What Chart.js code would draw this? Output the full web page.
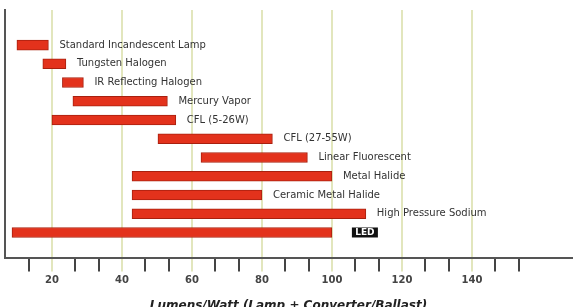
<!DOCTYPE html>
<html>
<head>
<meta charset="utf-8">
<script src="https://cdn.jsdelivr.net/npm/chart.js@4.4.0/dist/chart.umd.min.js"></script>
<style>
  html, body { margin: 0; padding: 0; background: #fff; overflow: hidden; }
</style>
</head>
<body>
<canvas id="lampChart" width="577" height="319"></canvas>
<script>
// lamp types, top to bottom
const lampTypes = [
    'Standard Incandescent Lamp',
    'Tungsten Halogen',
    'IR Reflecting Halogen',
    'Mercury Vapor',
    'CFL (5-26W)',
    'CFL (27-55W)',
    'Linear Fluorescent',
    'Metal Halide',
    'Ceramic Metal Halide',
    'High Pressure Sodium',
    'LED'
];
// efficacy range (lumens / watt)
const efficacyLow  = [10, 17.4, 23, 26, 20, 50.3, 62.6, 42.9, 42.9, 42.9, 8.6];
const efficacyHigh = [19, 24, 29, 53, 55.4, 83, 93, 100, 80, 109.7, 100];

// axis ticks: small marks every 20/3, labels every 20
const tickMarks = [13.33, 20, 26.67, 33.33, 40, 46.67, 53.33, 60, 66.67, 73.33, 80,
    86.67, 93.33, 100, 106.67, 113.33, 120, 126.67, 133.33, 140, 146.67, 153.33];
const tickLabels = [20, 40, 60, 80, 100, 120, 140];

const isLabelTick = v => tickLabels.some(t => Math.abs(t - v) < 0.01);

// texto al lado de cada barra
const barLabels = {
    id: 'barLabels',
    afterDatasetsDraw(chart) {
        const ctx = chart.ctx;
        const meta = chart.getDatasetMeta(0);
        ctx.save();
        ctx.textBaseline = 'middle';
        meta.data.forEach((bar, i) => {
            const name = lampTypes[i];
            if (name === 'LED') {
                const x = bar.x + 20;
                ctx.fillStyle = '#111';
                ctx.fillRect(x, bar.y - 5, 26, 10);
                ctx.fillStyle = '#fff';
                ctx.font = 'bold 9px "DejaVu Sans"';
                ctx.textAlign = 'center';
                ctx.fillText(name, x + 13, bar.y + 0.5);
            } else {
                ctx.fillStyle = '#333';
                ctx.font = '10px "DejaVu Sans"';
                ctx.textAlign = 'left';
                ctx.fillText(name, bar.x + 11, bar.y);
            }
        });
        ctx.restore();
    }
};

const ctx = document.getElementById('lampChart').getContext('2d');
new Chart(ctx, {
    type: 'bar',
    data: {
        datasets: [{
            data: lampTypes.map((name, i) => ({ x: [efficacyLow[i], efficacyHigh[i]], y: i })),
            backgroundColor: '#e3321c',
            borderColor: '#a8200f',
            borderWidth: 1,
            borderSkipped: false,
            barThickness: 10
        }]
    },
    options: {
        indexAxis: 'y',
        responsive: false,
        animation: false,
        layout: { padding: { left: 5, right: 5, top: 10, bottom: 6 } },
        plugins: {
            legend: { display: false },
            tooltip: { enabled: false }
        },
        scales: {
            y: {
                type: 'linear',
                reverse: true,
                offset: false,
                min: -1.87,
                max: 11.34,
                ticks: { display: false },
                grid: { display: false, drawTicks: false },
                border: { display: true, color: '#555', width: 2 }
            },
            x: {
                type: 'linear',
                min: 6.6,
                max: 168.6,
                afterBuildTicks: scale => {
                    scale.ticks = tickMarks.map(v => ({ value: v }));
                },
                ticks: {
                    autoSkip: false,
                    maxRotation: 0,
                    padding: 3,
                    color: '#444',
                    font: { family: '"DejaVu Sans"', size: 10, weight: 'bold' },
                    callback: v => isLabelTick(v) ? String(Math.round(v)) : ''
                },
                grid: {
                    drawOnChartArea: true,
                    drawTicks: true,
                    tickLength: 14,
                    lineWidth: 2,
                    color: c => isLabelTick(c.tick.value) ? '#e2e6bd' : 'rgba(0,0,0,0)',
                    tickColor: c => isLabelTick(c.tick.value) ? '#e2e6bd' : '#444'
                },
                border: { display: true, color: '#555', width: 2 },
                title: {
                    display: true,
                    text: 'Lumens/Watt (Lamp + Converter/Ballast)',
                    color: '#222',
                    padding: { top: 9, bottom: 0 },
                    font: { family: '"DejaVu Sans"', size: 12, weight: 'bold', style: 'italic' }
                }
            }
        }
    },
    plugins: [barLabels]
});
</script>
</body>
</html>
